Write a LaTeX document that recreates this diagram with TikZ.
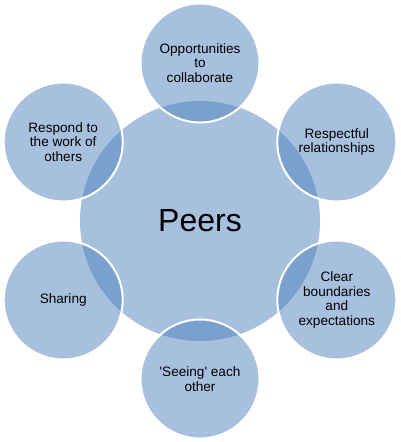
\documentclass[tikz,border=0pt]{standalone}
\usepackage{fontspec}
\setmainfont{Liberation Sans}
\definecolor{peerblue}{HTML}{4F81BD}

\begin{document}
\begin{tikzpicture}[
  x=1bp,
  y=1bp,
  hub/.style={circle, fill=peerblue, fill opacity=0.5, text opacity=1, minimum size=240bp, inner sep=0pt, text=black, font=\fontsize{32bp}{36bp}\selectfont},
  spoke/.style={circle, draw=white, line width=2bp, fill=peerblue, fill opacity=0.5, text opacity=1, minimum size=119bp, inner sep=0pt, align=center, text=black, font=\fontsize{13.6bp}{14.6bp}\selectfont},
]
\useasboundingbox (0,0) rectangle (400,442);

\node[hub] (peers) at (200,221) {Peers};

\node[spoke] (collab)  at (200,379)   {Opportunities\\to\\collaborate};
\node[spoke] (respect) at (336.8,300) {Respectful\\relationships};
\node[spoke] (bounds)  at (336.8,142) {Clear\\boundaries\\and\\expectations};
\node[spoke] (seeing)  at (200,63)    {\textquotesingle Seeing\textquotesingle{} each\\other};
\node[spoke] (sharing) at (63.2,142)  {Sharing};
\node[spoke] (respond) at (63.2,300)  {Respond to\\the work of\\others};

\end{tikzpicture}
\end{document}
